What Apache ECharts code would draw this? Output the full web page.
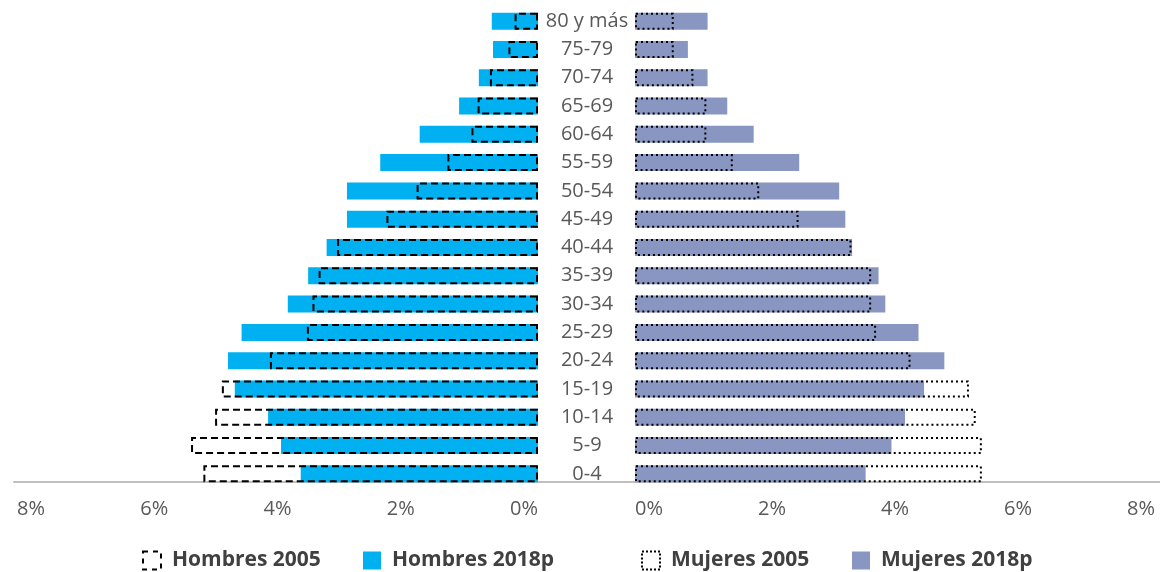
<!DOCTYPE html>
<html>
<head>
<meta charset="utf-8">
<script src="https://cdn.jsdelivr.net/npm/echarts@6/dist/echarts.min.js"></script>
<style>
html,body{margin:0;padding:0;background:#fff;}
#chart{width:1160px;height:572px;}
</style>
</head>
<body>
<div id="chart"></div>
<script>
const categories = ['0-4','5-9','10-14','15-19','20-24','25-29','30-34','35-39','40-44','45-49','50-54','55-59','60-64','65-69','70-74','75-79','80 y más'];
const hombres2005  = [5.43,5.63,5.24,5.13,4.35,3.75,3.66,3.56,3.26,2.46,1.97,1.47,1.08,0.98,0.78,0.48,0.38];
const hombres2018p = [3.85,4.17,4.38,4.92,5.03,4.81,4.06,3.73,3.43,3.10,3.10,2.56,1.92,1.28,0.96,0.73,0.75];
const mujeres2005  = [5.64,5.64,5.54,5.43,4.48,3.92,3.84,3.84,3.52,2.66,2.02,1.59,1.16,1.16,0.95,0.63,0.63];
const mujeres2018p = [3.75,4.17,4.39,4.70,5.03,4.61,4.07,3.96,3.53,3.42,3.32,2.67,1.93,1.50,1.18,0.86,1.18];
const axisMin = 0, axisMax = 8, axisStep = 2;

const FONT = '"Open Sans", "Noto Sans", sans-serif';
const BLUE = '#00B0F0';
const PURPLE = '#8996C2';
const dashStyle = {color:'rgba(0,0,0,0)', borderColor:'#000', borderWidth:2, borderType:[7,4]};
const dotStyle  = {color:'rgba(0,0,0,0)', borderColor:'#000', borderWidth:2, borderType:[2,3]};

const chart = echarts.init(document.getElementById('chart'), null, {renderer:'canvas'});

const tickLabel = {fontFamily:FONT, fontSize:20, color:'#595959', margin:11, formatter:'{value}%'};

function legendBox(left, name, style){
  return {
    left:left, top:545, itemWidth:18, itemHeight:18, orient:'horizontal',
    data:[{name:name, icon:'rect', itemStyle:style}],
    textStyle:{fontFamily:FONT, fontSize:21, fontWeight:'bold', color:'#404040', padding:[0,0,0,6]},
    selectedMode:false
  };
}

const option = {
  animation:false,
  backgroundColor:'#fff',
  grid:[
    {left:45, right:622, top:7, bottom:84},
    {left:635, right:33, top:7, bottom:84},
    {left:14, right:0, top:7, bottom:90}
  ],
  legend:[
    legendBox(137, 'Hombres 2005', {color:'rgba(0,0,0,0)', borderColor:'#000', borderWidth:2, borderType:[5,5]}),
    legendBox(358, 'Hombres 2018p', {color:BLUE}),
    legendBox(636, 'Mujeres 2005', {color:'rgba(0,0,0,0)', borderColor:'#000', borderWidth:2, borderType:[2,2]}),
    legendBox(847, 'Mujeres 2018p', {color:PURPLE})
  ],
  xAxis:[
    {gridIndex:0, type:'value', inverse:true, min:axisMin, max:axisMax, interval:axisStep,
     axisLine:{show:false}, axisTick:{show:false}, splitLine:{show:false},
     axisLabel:Object.assign({}, tickLabel, {align:'right'})},
    {gridIndex:1, type:'value', min:axisMin, max:axisMax, interval:axisStep,
     axisLine:{show:false}, axisTick:{show:false}, splitLine:{show:false},
     axisLabel:Object.assign({}, tickLabel, {align:'left'})},
    {gridIndex:2, type:'value', min:0, max:1,
     axisLine:{show:true, lineStyle:{color:'#BFBFBF', width:2}}, axisTick:{show:false},
     splitLine:{show:false}, axisLabel:{show:false}}
  ],
  yAxis:[
    {gridIndex:0, type:'category', data:categories, position:'right',
     axisLine:{show:false, onZero:false}, axisTick:{show:false},
     axisLabel:{fontFamily:FONT, fontSize:20, color:'#595959', align:'center', margin:49}},
    {gridIndex:1, type:'category', data:categories,
     axisLine:{show:false, onZero:false}, axisTick:{show:false}, axisLabel:{show:false}},
    {gridIndex:2, type:'value', show:false, min:0, max:1}
  ],
  series:[
    {name:'Hombres 2018p', type:'bar', xAxisIndex:0, yAxisIndex:0, data:hombres2018p,
     barWidth:17, barGap:'-100%', itemStyle:{color:BLUE}, z:2},
    {name:'Hombres 2005', type:'bar', xAxisIndex:0, yAxisIndex:0, data:hombres2005,
     barWidth:17, barGap:'-100%', itemStyle:dashStyle, z:3},
    {name:'Mujeres 2018p', type:'bar', xAxisIndex:1, yAxisIndex:1, data:mujeres2018p,
     barWidth:17, barGap:'-100%', itemStyle:{color:PURPLE}, z:2},
    {name:'Mujeres 2005', type:'bar', xAxisIndex:1, yAxisIndex:1, data:mujeres2005,
     barWidth:17, barGap:'-100%', itemStyle:dotStyle, z:3}
  ]
};
chart.setOption(option);
</script>
</body>
</html>
